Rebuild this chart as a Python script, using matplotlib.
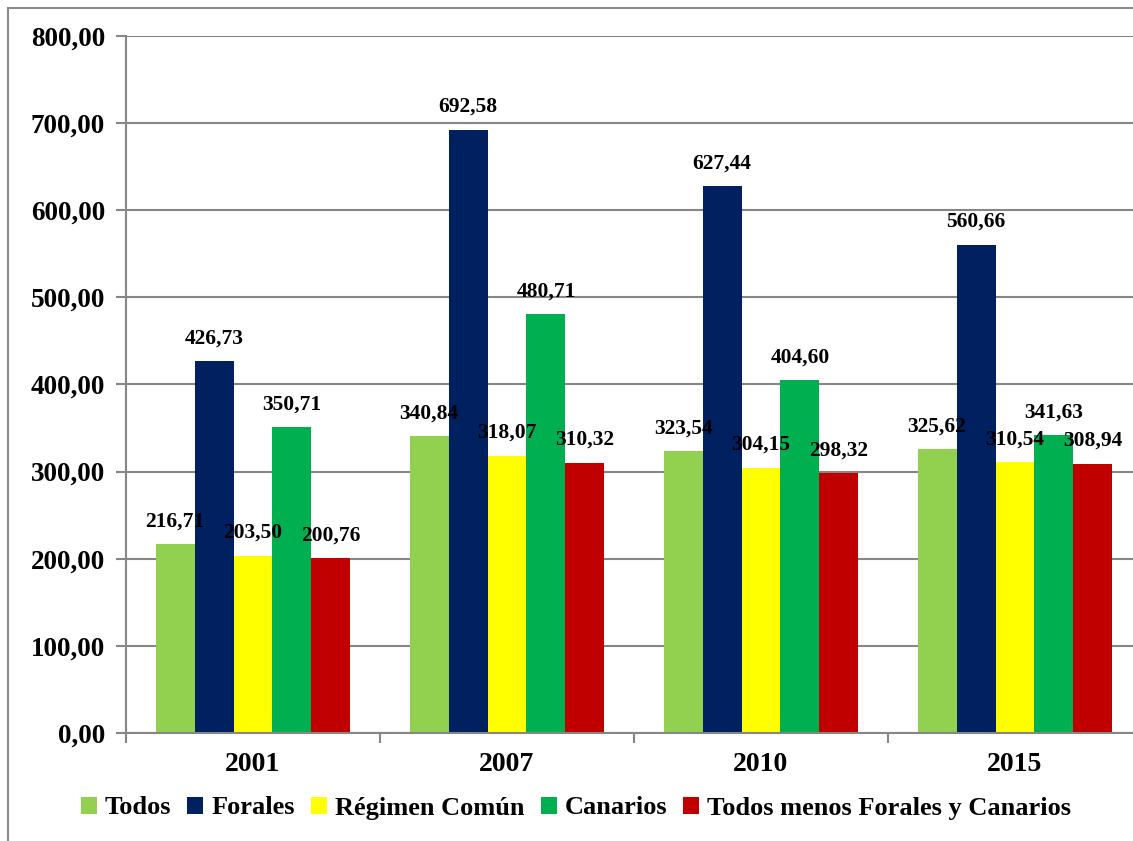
import matplotlib.pyplot as plt
import numpy as np
from matplotlib.patches import Rectangle

plt.rcParams["font.family"] = ["Liberation Serif", "DejaVu Serif"]
plt.rcParams["font.weight"] = "bold"

years = ["2001", "2007", "2010", "2015"]
series = ["Todos", "Forales", "Régimen Común", "Canarios", "Todos menos Forales y Canarios"]
todos = [216.71, 340.84, 323.54, 325.62]
forales = [426.73, 692.58, 627.44, 560.66]
regimen_comun = [203.50, 318.07, 304.15, 310.54]
canarios = [350.71, 480.71, 404.60, 341.63]
todos_menos = [200.76, 310.32, 298.32, 308.94]
colors = ["#92d050", "#002060", "#ffff00", "#00b050", "#c00000"]

values = [todos, forales, regimen_comun, canarios, todos_menos]


def fmt(v):
    return f"{v:.2f}".replace(".", ",")


fig = plt.figure(figsize=(11.33, 8.41), dpi=100)
ax = fig.add_axes([126 / 1133, 108 / 841, 1016 / 1133, 697 / 841])

# borde del grafico (solo se ve arriba y a la izquierda)
fig.patches.append(Rectangle((8 / 1133, -0.05), 1.2, 0.05 + 833 / 841, transform=fig.transFigure,
                             fill=False, edgecolor="#8c8c8c", linewidth=1.5))

x = np.arange(len(years))
w = 0.1535
for i, (name, vals, c) in enumerate(zip(series, values, colors)):
    pos = x + (i - 2) * w
    ax.bar(pos, vals, width=w, color=c, label=name, zorder=3)
    for p, v in zip(pos, vals):
        ax.annotate(fmt(v), (p, v), xytext=(0, 16.5), textcoords="offset points",
                    ha="center", va="center", fontsize=15.5, fontweight="bold", zorder=5)

ax.set_xlim(-0.5, 3.5)
ax.set_ylim(0, 800)
ax.set_yticks(np.arange(0, 801, 100))
ax.set_yticklabels([fmt(v) for v in np.arange(0, 801, 100)], fontsize=19.5, fontweight="bold")
ax.set_xticks(x)
ax.set_xticklabels(years, fontsize=20, fontweight="bold")
ax.set_xticks(np.arange(-0.5, 3.6, 1), minor=True)
ax.tick_params(axis="x", which="major", length=0, pad=14)
ax.tick_params(axis="x", which="minor", length=7, width=1.5, color="#868686", direction="out")
ax.tick_params(axis="y", length=7, width=1.5, color="#868686", pad=8)

ax.grid(axis="y", color="#868686", linewidth=1.5, zorder=0)
for s in ["top", "right"]:
    ax.spines[s].set_visible(False)
for s in ["left", "bottom"]:
    ax.spines[s].set_color("#868686")
    ax.spines[s].set_linewidth(1.5)
    ax.spines[s].set_zorder(4)

leg = fig.legend(loc="center", bbox_to_anchor=(576 / 1133, 1 - 808 / 841), ncol=5, frameon=False,
                 prop={"size": 19, "weight": "bold"}, handlelength=0.6, handleheight=0.6,
                 handletextpad=0.3, columnspacing=0.62)

fig.savefig("out.png", dpi=100)
